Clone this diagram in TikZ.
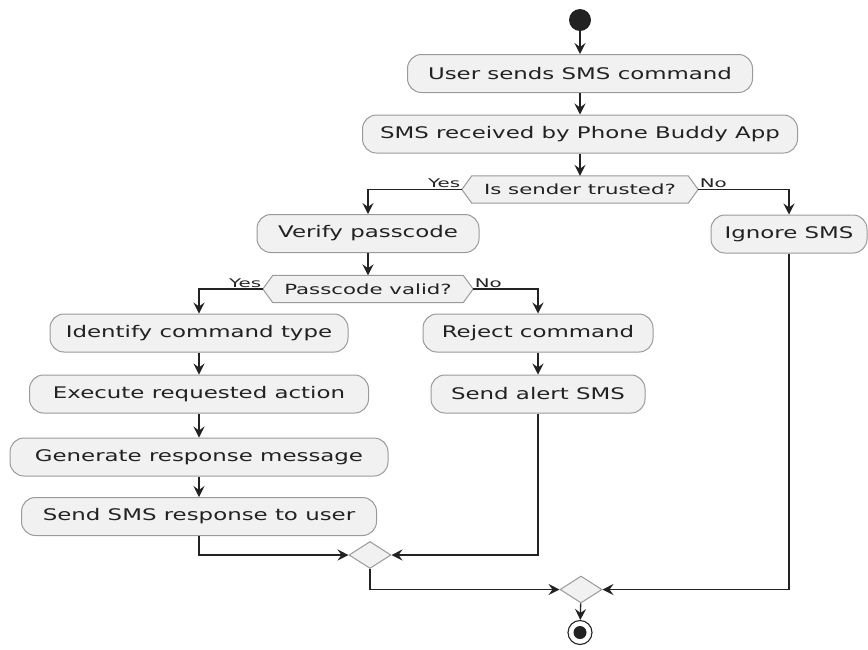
\documentclass[tikz,border=0pt]{standalone}
\usepackage{fontspec}
\setmainfont{DejaVu Sans}
\usepackage{graphicx}
\usetikzlibrary{shapes.geometric,arrows.meta,backgrounds}
\definecolor{boxfill}{HTML}{F1F1F1}
\definecolor{boxline}{HTML}{9A9A9A}
\definecolor{ink}{HTML}{222222}
\newcommand\btxt[1]{\scalebox{1.43}[1]{#1}}
\newcommand\dtxt[1]{\scalebox{1.52}[1]{#1}}
\newcommand\ltxt[1]{\scalebox{1.65}[1]{#1}}
\begin{document}
\begin{tikzpicture}[x=1pt,y=-1pt,
  act/.style={draw=boxline, fill=boxfill, line width=1pt, rounded corners=14pt, minimum height=38pt, inner sep=0pt, text=ink, font=\fontsize{16}{19}\selectfont},
  dec/.style={inner sep=0pt, minimum height=27pt, text=ink, font=\fontsize{14}{16}\selectfont},
  hexa/.style={draw=boxline, fill=boxfill, line width=1pt},
  merge/.style={diamond, draw=boxline, fill=boxfill, line width=1pt, inner sep=0pt, minimum width=42pt, minimum height=27pt},
  lbl/.style={inner sep=1.5pt, text=ink, font=\fontsize{12}{14}\selectfont},
  arr/.style={draw=ink, line width=1.3pt, -{Stealth[length=11pt,width=11pt,inset=4pt]}},
]
\useasboundingbox (0,0) rectangle (868,649);

\node[circle, fill=ink, minimum size=22pt, inner sep=0pt] (start) at (580,20) {};
\node[act, minimum width=345pt] (a1) at (580,73.5) {\btxt{User sends SMS command}};
\node[act, minimum width=435pt] (a2) at (580,134) {\btxt{SMS received by Phone Buddy App}};
\node[dec, minimum width=216pt] (d1) at (580,189.5) {\dtxt{Is sender trusted?}};
\coordinate (d1l) at ([xshift=-10pt]d1.west);
\coordinate (d1r) at ([xshift=10pt]d1.east);

\node[act, minimum width=222pt] (a3) at (368,233.5) {\btxt{Verify passcode}};
\node[act, minimum width=156pt] (a4) at (789,234) {\btxt{Ignore SMS}};
\node[dec, minimum width=190pt] (d2) at (368,289) {\dtxt{Passcode valid?}};
\coordinate (d2l) at ([xshift=-10pt]d2.west);
\coordinate (d2r) at ([xshift=10pt]d2.east);

\node[act, minimum width=298pt] (a5) at (199,333) {\btxt{Identify command type}};
\node[act, minimum width=339pt] (a6) at (199,394) {\btxt{Execute requested action}};
\node[act, minimum width=378pt] (a7) at (199,457) {\btxt{Generate response message}};
\node[act, minimum width=355pt] (a8) at (199,516.5) {\btxt{Send SMS response to user}};
\node[act, minimum width=230pt] (a9) at (538,333) {\btxt{Reject command}};
\node[act, minimum width=214pt] (a10) at (538,394) {\btxt{Send alert SMS}};

\node[merge] (m1) at (370,555) {};
\node[merge] (m2) at (581,589.5) {};
\node[circle, draw=ink, fill=white, line width=1.1pt, minimum size=24pt, inner sep=0pt] (end) at (580,632.5) {};
\node[circle, fill=ink, minimum size=13pt, inner sep=0pt] (endin) at (end) {};

\begin{scope}[on background layer]
\draw[hexa] (d1l) -- (d1.north west) -- (d1.north east) -- (d1r) -- (d1.south east) -- (d1.south west) -- cycle;
\draw[hexa] (d2l) -- (d2.north west) -- (d2.north east) -- (d2r) -- (d2.south east) -- (d2.south west) -- cycle;
\end{scope}

\draw[arr] (start) -- (a1);
\draw[arr] (a1) -- (a2);
\draw[arr] (a2) -- (d1);
\draw[arr] (d1l) -| (a3);
\node[lbl, anchor=south east] (y1) at (d1l) {\ltxt{Yes}};
\draw[arr] (d1r) -| (a4);
\node[lbl, anchor=south west] (n1) at (d1r) {\ltxt{No}};
\draw[arr] (a3) -- (d2);
\draw[arr] (d2l) -| (a5);
\node[lbl, anchor=south east] (y2) at (d2l) {\ltxt{Yes}};
\draw[arr] (d2r) -| (a9);
\node[lbl, anchor=south west] (n2) at (d2r) {\ltxt{No}};
\draw[arr] (a5) -- (a6);
\draw[arr] (a6) -- (a7);
\draw[arr] (a7) -- (a8);
\draw[arr] (a9) -- (a10);
\draw[arr] (a8.south) |- (m1.west);
\draw[arr] (a10.south) |- (m1.east);
\draw[arr] (m1.south) |- (m2.west);
\draw[arr] (a4.south) |- (m2.east);
\draw[arr] (m2) -- (end);
\end{tikzpicture}
\end{document}
